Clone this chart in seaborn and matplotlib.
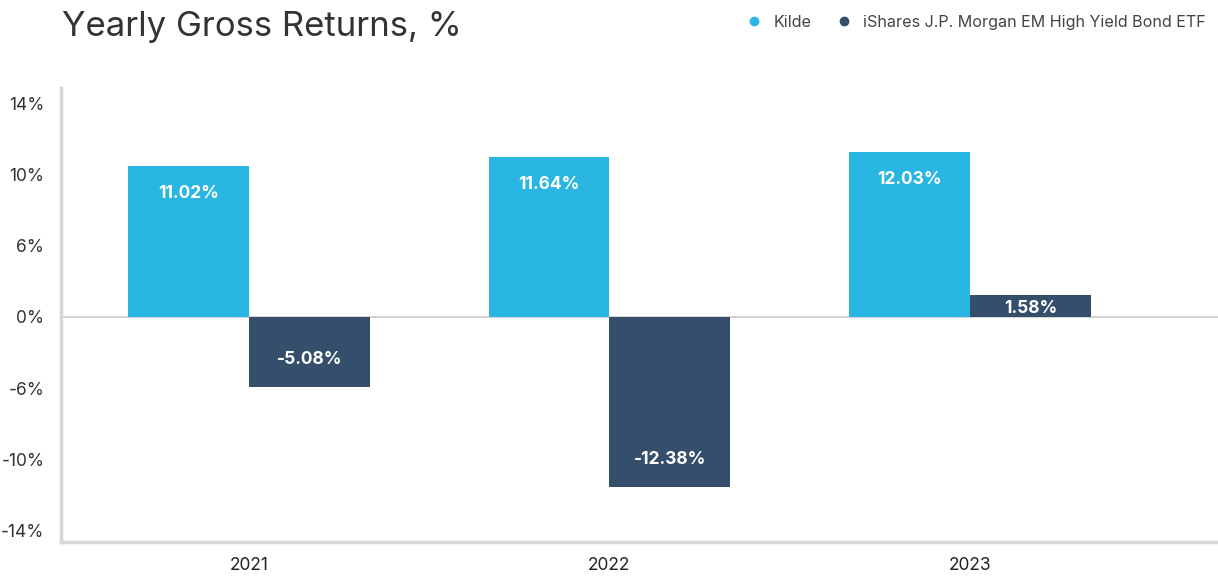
import numpy as np
import pandas as pd
import matplotlib
matplotlib.use("Agg")
import matplotlib.pyplot as plt
from matplotlib.lines import Line2D
import seaborn as sns

# ---- data ----
years = ["2021", "2022", "2023"]
series_names = ["Kilde", "iShares J.P. Morgan EM High Yield Bond ETF"]
kilde = [11.02, 11.64, 12.03]
ishares = [-5.08, -12.38, 1.58]
ytick_labels = ["-14%", "-10%", "-6%", "0%", "6%", "10%", "14%"]

colors = ["#29B6E3", "#344E6C"]

df = pd.DataFrame({
    "Year": years * 2,
    "Fund": [series_names[0]] * 3 + [series_names[1]] * 3,
    "Return": kilde + ishares,
})

sns.set_theme(style="white")
plt.rcParams["font.family"] = ["Inter", "DejaVu Sans"]

fig = plt.figure(figsize=(12.18, 5.76), dpi=100)
ax = fig.add_axes([61 / 1218, 1 - 542 / 576, 1 - 61 / 1218, (542 - 88) / 576])

sns.barplot(data=df, x="Year", y="Return", hue="Fund", palette=colors,
            saturation=1, width=0.67, ax=ax, legend=False, linewidth=0,
            errorbar=None)

# value labels inside bars
for cont in ax.containers:
    for bar in cont:
        if bar.get_y() < 0:
            v = bar.get_y()
        else:
            v = bar.get_height()
        off = min(2.0, abs(v) * 0.6)
        ypos = v - np.sign(v) * off
        ax.text(bar.get_x() + bar.get_width() / 2, ypos, f"{v:.2f}%",
                ha="center", va="center", color="white", fontsize=12.5,
                fontweight="bold")

step = 5.2
ax.set_ylim(-16.41, 16.70)
ax.set_xlim(-0.521, 2.688)
ax.set_yticks(np.arange(-3, 4) * step)
ax.set_yticklabels(ytick_labels)
ax.axhline(0, color="#cccccc", lw=1.2, zorder=0.5)

ax.set_xlabel("")
ax.set_ylabel("")
for s in ["top", "right"]:
    ax.spines[s].set_visible(False)
for s in ["left", "bottom"]:
    ax.spines[s].set_color("#d6d6d6")
    ax.spines[s].set_linewidth(2.5)
ax.tick_params(axis="y", length=0, pad=12, labelsize=12.5, labelcolor="#333333")
ax.tick_params(axis="x", length=0, pad=11, labelsize=12.5, labelcolor="#222222")

fig.text(62 / 1218, 1 - 36 / 576, "Yearly Gross Returns, %", fontsize=25,
         color="#333333", ha="left", va="baseline")

handles = [Line2D([], [], marker="o", linestyle="", markersize=6,
                  markerfacecolor=c, markeredgecolor=c) for c in colors]
fig.legend(handles, series_names, loc="upper right", bbox_to_anchor=(1.002, 0.999),
           ncol=2, frameon=False, fontsize=11.6, handletextpad=0.2,
           columnspacing=1.0, labelcolor="#444444")

fig.savefig("out.png", dpi=100)
